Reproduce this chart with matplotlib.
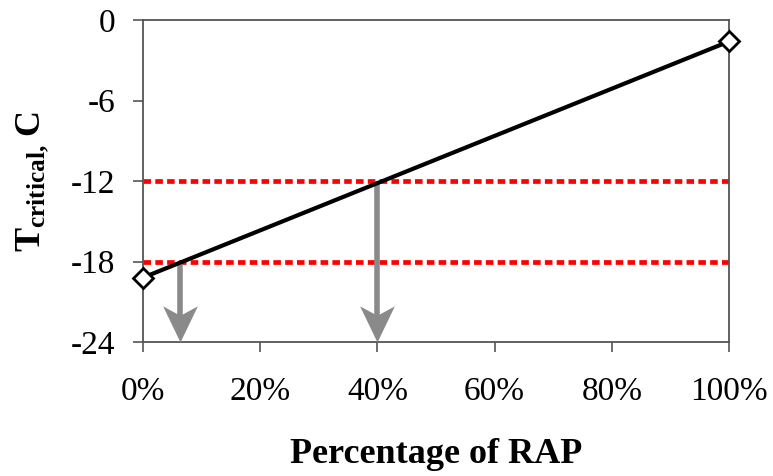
import matplotlib
matplotlib.use("Agg")
import matplotlib.pyplot as plt
from matplotlib.path import Path

# Data
rap_pct = [0, 100]
t_critical = [-19.2, -1.6]
ref_temps = [-12, -18]
arrow_x = [6.3, 40]
arrow_top = [-18, -12]
arrow_bottom = -24
x_ticks = [0, 20, 40, 60, 80, 100]
x_ticklabels = ["0%", "20%", "40%", "60%", "80%", "100%"]
y_ticks = [-24, -18, -12, -6, 0]
y_ticklabels = ["-24", "-18", "-12", "-6", "0"]

plt.rcParams['font.family'] = ['Liberation Serif', 'DejaVu Serif']
plt.rcParams['mathtext.fontset'] = 'custom'
plt.rcParams['mathtext.rm'] = 'Liberation Serif:bold'
plt.rcParams['mathtext.it'] = 'Liberation Serif:bold:italic'
plt.rcParams['mathtext.bf'] = 'Liberation Serif:bold'

fig = plt.figure(figsize=(7.73, 4.76), dpi=100)
ax = fig.add_axes([143/773, 1 - 342/476, (729 - 143)/773, (342 - 20)/476])

ax.set_xlim(0, 100)
ax.set_ylim(-24, 0)

for t in ref_temps:
    ax.plot([0, 100], [t, t], color='#ff0000', lw=3.4, linestyle=(0, (1.6, 0.9)),
            dash_capstyle='butt', zorder=2)

# notched arrow-head marker (tip at origin, pointing down)
head = Path([(0, 0), (-0.48, 1.0), (0, 0.74), (0.48, 1.0), (0, 0)],
            [Path.MOVETO, Path.LINETO, Path.LINETO, Path.LINETO, Path.CLOSEPOLY])
arrow_col = '#8a8a8a'
for x0, y0 in zip(arrow_x, arrow_top):
    ax.plot([x0, x0], [y0, arrow_bottom + 1.5], color=arrow_col, lw=4.0,
            solid_capstyle='butt', zorder=3)
    ax.plot([x0], [arrow_bottom], marker=head, markersize=52, color=arrow_col,
            markeredgewidth=0, linestyle='none', clip_on=False, zorder=3)

ax.plot(rap_pct, t_critical, color='black', lw=3.0, marker='D', markersize=10,
        markerfacecolor='white', markeredgecolor='black', markeredgewidth=2.0,
        clip_on=False, zorder=5)

ax.set_xticks(x_ticks)
ax.set_xticklabels(x_ticklabels)
ax.set_yticks(y_ticks)
ax.set_yticklabels(y_ticklabels)
ax.tick_params(axis='both', direction='out', length=7, width=1.2, color='#555555',
               labelsize=24, labelcolor='black')
ax.tick_params(axis='x', pad=18)
ax.tick_params(axis='y', pad=13)

for s in ax.spines.values():
    s.set_color('#555555')
    s.set_linewidth(1.3)

ax.set_xlabel('Percentage of RAP', fontsize=26, fontweight='bold', labelpad=22)
ax.set_ylabel(r'$\mathrm{T_{critical,}\,C}$', fontsize=26, fontweight='bold', labelpad=14)

fig.savefig('out.png', dpi=100)
